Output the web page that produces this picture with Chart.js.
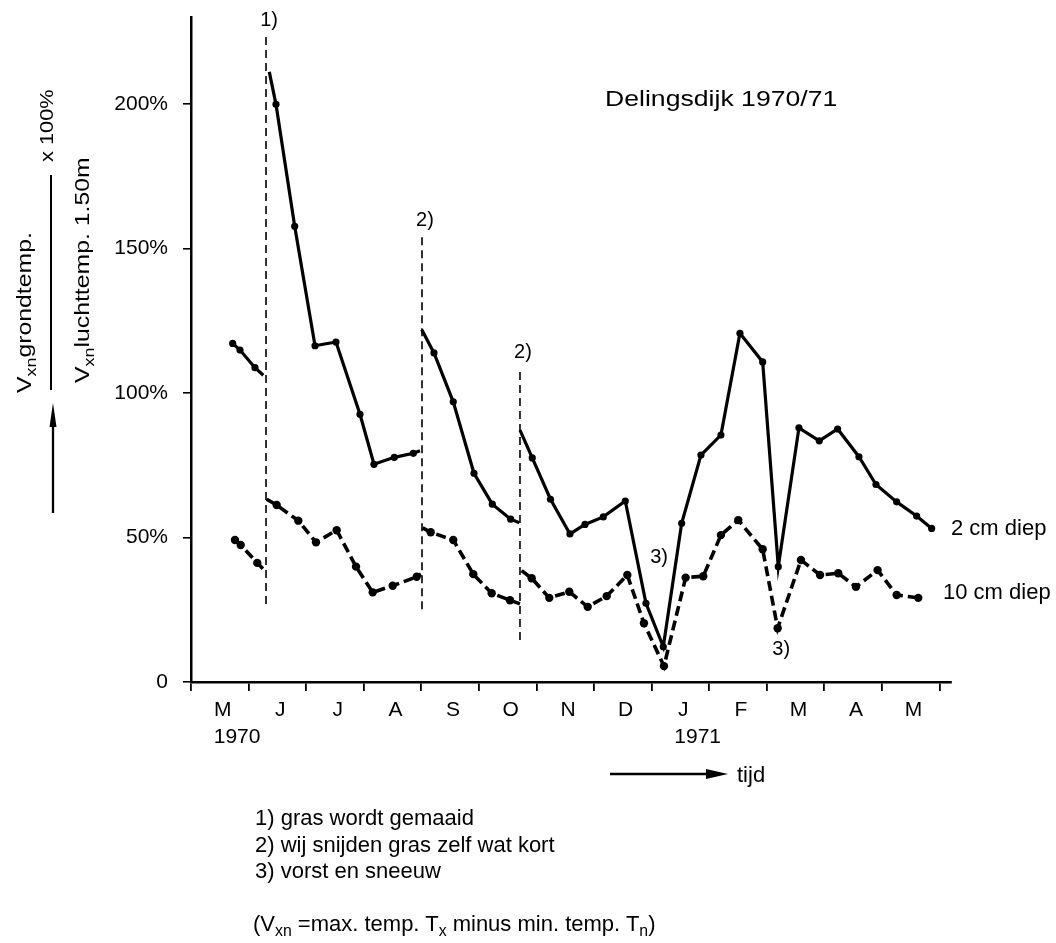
<!DOCTYPE html>
<html>
<head>
<meta charset="utf-8">
<title>Delingsdijk 1970/71</title>
<script src="https://cdn.jsdelivr.net/npm/chart.js@4.4.1/dist/chart.umd.min.js"></script>
<style>
    body { margin: 0; background: #fff; }
    #wrap { position: relative; width: 1056px; height: 943px; font-family: "Liberation Sans", Arial, Helvetica, sans-serif; color: #000; }
    #chart { position: absolute; left: 0; top: 0; }
    .txt { position: absolute; white-space: nowrap; line-height: 1; font-size: 22px; }
    .wide { transform: scaleX(1.21); transform-origin: 0 0; }
    .rot { position: absolute; white-space: nowrap; line-height: 1; font-size: 20.5px; transform-origin: 0 0; transform: rotate(-90deg) scaleX(1.21); }
    .sub { font-size: .72em; position: relative; top: .32em; }
    .bar { position: absolute; background: #000; }
    svg { position: absolute; overflow: visible; }
</style>
</head>
<body>
<div id="wrap">
    <canvas id="chart" width="1056" height="943"></canvas>

    <div class="txt wide" style="left:605px;top:88px">Delingsdijk 1970/71</div>
    <div class="txt" style="left:951px;top:517px">2 cm diep</div>
    <div class="txt" style="left:943px;top:581px">10 cm diep</div>

    <!-- y-as titel -->
    <div class="rot" style="left:14px;top:393px">V<span class="sub">xn</span>grondtemp.</div>
    <div class="bar" style="left:50px;top:175px;width:2px;height:215px"></div>
    <div class="rot" style="left:38px;top:162px;font-size:18px">x 100%</div>
    <div class="rot" style="left:72px;top:383px">V<span class="sub">xn</span>luchttemp. 1.50m</div>
    <svg style="left:45px;top:400px" width="16" height="116">
        <line x1="8" y1="20" x2="8" y2="113" stroke="#000" stroke-width="2.3"/>
        <polygon points="8,3 4.5,27 11.5,27" fill="#000"/>
    </svg>

    <!-- tijd pijl -->
    <svg style="left:605px;top:765px" width="130" height="18">
        <line x1="5" y1="9" x2="106" y2="9" stroke="#000" stroke-width="2.3"/>
        <polygon points="123,9 101,4 101,14" fill="#000"/>
    </svg>
    <div class="txt" style="left:737px;top:764px">tijd</div>

    <!-- voetnoten -->
    <div class="txt" style="left:255px;top:807px">1) gras wordt gemaaid</div>
    <div class="txt" style="left:255px;top:834px">2) wij snijden gras zelf wat kort</div>
    <div class="txt" style="left:255px;top:860px">3) vorst en sneeuw</div>
    <div class="txt" style="left:253px;top:913px">(V<span class="sub">xn</span> =max. temp. T<span class="sub">x</span> minus min. temp. T<span class="sub">n</span>)</div>
</div>

<script>
// ==========================================
// Delingsdijk 1970/71 - Vxn grond / Vxn lucht
// ==========================================

// x in maanden vanaf 1 mei 1970
const months = ['M', 'J', 'J', 'A', 'S', 'O', 'N', 'D', 'J', 'F', 'M', 'A', 'M'];
const monthTicks = [0, 1, 2, 3, 4, 5, 6, 7, 8, 9, 10, 11, 12, 13];
const years = ['1970', '1971'];
const yearStartMonth = [0, 8];
const yTicks = [0, 50, 100, 150, 200];

// 2 cm diep (null = onderbreking)
const depth2X = [0.724, 0.851, 1.111, 1.256, null,
    1.360, 1.476, 1.801, 2.154, 2.518, 2.935, 3.178, 3.531, 3.861, 3.977, null,
    4.007, 4.220, 4.555, 4.915, 5.233, 5.552, 5.702, null,
    5.714, 5.927, 6.244, 6.582, 6.843, 7.161, 7.543, 7.902, 8.203, 8.522, 8.857, 9.204,
    9.534, 9.929, 10.200, 10.559, 10.912, 11.231, 11.601, 11.897, 12.256, 12.603, 12.864];
const depth2Y = [117.1, 114.8, 108.7, 106.1, null,
    211.0, 199.8, 157.6, 116.3, 117.6, 92.6, 75.3, 77.7, 79.1, 80.0, null,
    121.9, 113.8, 96.9, 72.2, 61.5, 56.3, 55.1, null,
    87.1, 77.5, 63.2, 51.2, 54.5, 57.1, 62.6, 27.2, 12.2, 54.9, 78.5, 85.4,
    120.6, 110.7, 39.9, 87.9, 83.4, 87.5, 77.9, 68.3, 62.3, 57.4, 53.1];

// 10 cm diep
const depth10X = [0.764, 0.863, 1.151, 1.303, null,
    1.315, 1.488, 1.864, 2.171, 2.530, 2.866, 3.156, 3.503, 3.920, 3.994, null,
    4.024, 4.163, 4.555, 4.903, 5.222, 5.540, 5.714, null,
    5.743, 5.917, 6.223, 6.570, 6.890, 7.220, 7.578, 7.867, 8.215, 8.591, 8.897,
    9.204, 9.505, 9.929, 10.189, 10.594, 10.926, 11.242, 11.549, 11.925, 12.256, 12.631];
const depth10Y = [49.1, 47.4, 41.2, 38.1, null,
    63.2, 61.2, 55.8, 48.3, 52.5, 39.9, 31.0, 33.3, 36.4, 37.3, null,
    53.3, 51.8, 49.1, 37.3, 30.7, 28.3, 27.0, null,
    38.5, 35.9, 29.1, 31.2, 26.0, 29.7, 37.0, 20.3, 5.5, 36.1, 36.6,
    50.8, 56.0, 45.9, 18.6, 42.2, 37.0, 37.6, 32.9, 38.7, 30.1, 29.1];

// maaien / kortsnijden
const cutX = [1.303, 4.012, 5.714];
const cutTop = [223.1, 154.0, 108.6];
const cutBottom = [27.0, 25.2, 14.5];
const cutNotes = ['1)', '2)', '2)'];

// vorst en sneeuw
const frostNotes = ['3)', '3)'];
const frostNoteAt = [{ x: 8.13, y: 43.2 }, { x: 10.25, y: 11.4 }];

const FONT = '"Liberation Sans", Arial, Helvetica, sans-serif';
Chart.defaults.font.family = FONT;
Chart.defaults.font.size = 21;
Chart.defaults.color = '#000';

function toPoints(xs, ys) {
    return xs.map((x, i) => ({ x: x, y: ys[i] }));
}

// punten naast een onderbreking krijgen geen stip
function atBreak(ctx) {
    const d = ctx.dataset.data;
    const i = ctx.dataIndex;
    return (d[i - 1] && d[i - 1].y === null) || (d[i + 1] && d[i + 1].y === null);
}

const cutDatasets = cutX.map((cx, i) => ({
    data: [{ x: cx, y: cutBottom[i] }, { x: cx, y: cutTop[i] }],
    borderColor: '#000',
    borderWidth: 1.6,
    borderDash: [8, 5],
    pointRadius: 0,
    order: 2
}));

const notesPlugin = {
    id: 'notes',
    afterDatasetsDraw(chart) {
        const { ctx, scales: { x, y } } = chart;
        ctx.save();
        ctx.font = '20px ' + FONT;
        ctx.fillStyle = '#000';
        ctx.textAlign = 'center';
        ctx.textBaseline = 'middle';
        cutX.forEach((cx, i) => {
            ctx.fillText(cutNotes[i], x.getPixelForValue(cx) + 3, y.getPixelForValue(cutTop[i]) - 16);
        });
        frostNoteAt.forEach((p, i) => {
            ctx.fillText(frostNotes[i], x.getPixelForValue(p.x), y.getPixelForValue(p.y));
        });
        ctx.restore();
    }
};

new Chart(document.getElementById('chart'), {
    type: 'line',
    data: {
        datasets: [
            {
                label: '2 cm diep',
                data: toPoints(depth2X, depth2Y),
                borderColor: '#000',
                backgroundColor: '#000',
                borderWidth: 3.2,
                pointRadius: ctx => atBreak(ctx) ? 0 : 3.6,
                pointBorderWidth: 0,
                spanGaps: false,
                order: 1
            },
            {
                label: '10 cm diep',
                data: toPoints(depth10X, depth10Y),
                borderColor: '#000',
                backgroundColor: '#000',
                borderWidth: 3.6,
                borderDash: [10, 5],
                pointRadius: ctx => atBreak(ctx) ? 0 : 4.2,
                pointBorderWidth: 0,
                spanGaps: false,
                order: 1
            },
            ...cutDatasets
        ]
    },
    options: {
        responsive: false,
        animation: false,
        layout: { padding: { left: 0, top: 17, right: 105, bottom: 194 } },
        plugins: { legend: { display: false }, tooltip: { enabled: false } },
        scales: {
            x: {
                type: 'linear',
                position: 'bottom',
                min: 0,
                max: 13.2,
                weight: 0,
                afterBuildTicks: s => { s.ticks = monthTicks.map(v => ({ value: v })); },
                afterFit: s => { s.height = 9; },
                ticks: { display: false },
                grid: { drawOnChartArea: false, color: '#000', lineWidth: 1.8, tickLength: 9 },
                border: { color: '#000', width: 2.5 }
            },
            xMonths: {
                type: 'linear',
                position: 'bottom',
                min: 0,
                max: 13.2,
                weight: 1,
                afterBuildTicks: s => { s.ticks = months.map((m, i) => ({ value: i + 0.55 })); },
                afterFit: s => { s.height = 28; },
                ticks: { autoSkip: false, maxRotation: 0, padding: 7, callback: (v, i) => months[i] },
                grid: { display: false, drawTicks: false },
                border: { display: false }
            },
            xYears: {
                type: 'linear',
                position: 'bottom',
                min: 0,
                max: 13.2,
                weight: 2,
                afterBuildTicks: s => { s.ticks = yearStartMonth.map(m => ({ value: m + 0.8 })); },
                afterFit: s => { s.height = 30; },
                ticks: { autoSkip: false, maxRotation: 0, padding: 6, callback: (v, i) => years[i] },
                grid: { display: false, drawTicks: false },
                border: { display: false }
            },
            y: {
                type: 'linear',
                min: 0,
                max: 230,
                afterBuildTicks: s => { s.ticks = yTicks.map(v => ({ value: v })); },
                afterFit: s => { s.width = 191; s.paddingTop = 0; s.paddingBottom = 0; },
                ticks: { padding: 15, callback: v => v === 0 ? '0' : v + '%' },
                grid: { drawOnChartArea: false, color: '#000', lineWidth: 1.6, tickLength: 8 },
                border: { color: '#000', width: 2.5 }
            }
        }
    },
    plugins: [notesPlugin]
});
</script>
</body>
</html>
